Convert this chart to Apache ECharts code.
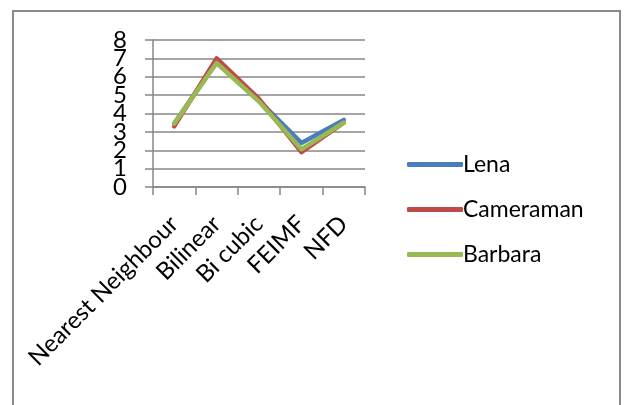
<!DOCTYPE html>
<html>
<head>
<meta charset="utf-8">
<script src="https://cdn.jsdelivr.net/npm/echarts@6/dist/echarts.min.js"></script>
<style>
html, body { margin: 0; padding: 0; background: #fff; }
#chart { width: 624px; height: 405px; }
</style>
</head>
<body>
<div id="chart"></div>
<script>
// 数据
var categories = ['Nearest Neighbour', 'Bilinear', 'Bi cubic', 'FEIMF', 'NFD'];
var lena = [3.45, 6.8, 4.7, 2.4, 3.65];
var cameraman = [3.3, 7.0, 4.8, 1.9, 3.5];
var barbara = [3.45, 6.75, 4.65, 2.05, 3.5];
var yTicks = [0, 1, 2, 3, 4, 5, 6, 7, 8];

var font = 'Lato';
var gray = '#878787';
var yMin = yTicks[0];
var yMax = yTicks[yTicks.length - 1];

var chart = echarts.init(document.getElementById('chart'));

function line(name, data, color) {
    return {
        name: name,
        type: 'line',
        data: data,
        symbol: 'none',
        lineStyle: { color: color, width: 4.5, cap: 'round', join: 'round' },
        itemStyle: { color: color }
    };
}

// y轴标签挤在一起，ECharts会隐藏重叠的，所以拆成两个轴来画
var yLabel = { margin: 26, fontFamily: font, fontSize: 24, color: '#000' };

chart.setOption({
    animation: false,
    graphic: [{
        type: 'rect',
        shape: { x: 13, y: 11, width: 607, height: 420 },
        style: { fill: 'none', stroke: '#8a8a8a', lineWidth: 2 }
    }],
    grid: { left: 153, right: 259, top: 40, bottom: 218 },
    legend: {
        orient: 'vertical',
        left: 402,
        top: 148,
        itemGap: 22,
        itemWidth: 56,
        itemHeight: 5,
        icon: 'roundRect',
        textStyle: { fontFamily: font, fontSize: 23, color: '#000', padding: [0, 0, 0, -5] },
        data: ['Lena', 'Cameraman', 'Barbara']
    },
    xAxis: {
        type: 'category',
        data: categories,
        boundaryGap: true,
        axisLine: { lineStyle: { color: gray, width: 1.5 } },
        axisTick: { show: true, length: 8, lineStyle: { color: gray, width: 1.5 } },
        axisLabel: { rotate: 45, margin: 33, fontFamily: font, fontSize: 24, color: '#000', interval: 0 }
    },
    yAxis: [{
        type: 'value',
        min: yMin,
        max: yMax,
        interval: 1,
        axisLine: { show: true, lineStyle: { color: gray, width: 1.5 } },
        axisTick: { show: true, length: 8, lineStyle: { color: gray, width: 1.5 } },
        splitLine: { lineStyle: { color: gray, width: 1.5 } },
        axisLabel: Object.assign({}, yLabel, {
            formatter: function (v) { return (v === yMin || v === yMax) ? '' : String(v); }
        })
    }, {
        type: 'value',
        position: 'left',
        min: yMin,
        max: yMax,
        interval: 1,
        axisLine: { show: false },
        axisTick: { show: false },
        splitLine: { show: false },
        axisLabel: Object.assign({}, yLabel, {
            showMinLabel: true, showMaxLabel: true,
            formatter: function (v) { return (v === yMin || v === yMax) ? String(v) : ''; }
        })
    }],
    series: [
        line('Lena', lena, '#4a7ebb'),
        line('Cameraman', cameraman, '#be4b48'),
        line('Barbara', barbara, '#98b954')
    ]
});
</script>
</body>
</html>
